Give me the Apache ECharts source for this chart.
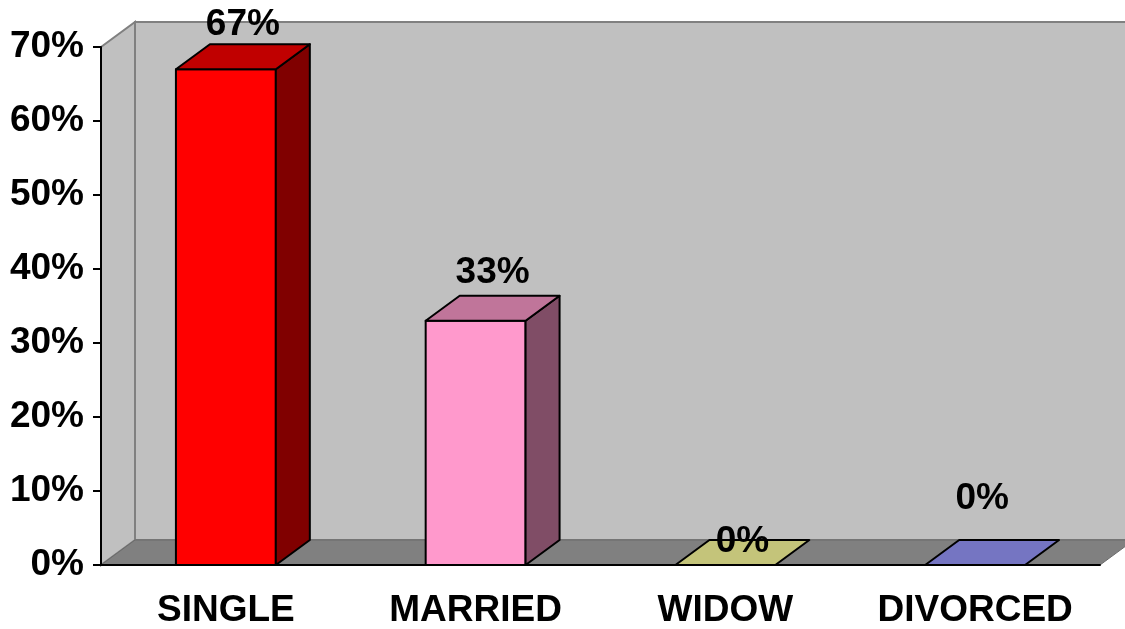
<!DOCTYPE html>
<html>
<head>
<meta charset="utf-8">
<script src="https://cdn.jsdelivr.net/npm/echarts@6/dist/echarts.min.js"></script>
<style>
  html, body { margin: 0; padding: 0; background: #fff; }
  #chart { width: 1125px; height: 629px; }
</style>
</head>
<body>
<div id="chart"></div>
<script>
// data
const categories = ['SINGLE', 'MARRIED', 'WIDOW', 'DIVORCED']
const shares = [0.67, 0.33, 0, 0]
const frontColors = ['#FF0000', '#FF99CC', '#FFFF99', '#9999FF']
const topColors = ['#C00000', '#C0759A', '#C4C47A', '#7575C2']
const sideColors = ['#800000', '#804D66', '#80804D', '#4D4D80']

// 3d look
const DX = 34
const DY = -25
const FONT = 'bold 37px "Liberation Sans", Arial, sans-serif'
// excel put the value labels at slightly different heights
const labelLift = [19, 23, -2, 41]
const labelShift = [0, 0, 0, -10]

const chart = echarts.init(document.getElementById('chart'))

function renderWalls(params, api) {
  const cs = params.coordSys
  const x0 = cs.x, x1 = cs.x + cs.width
  const yTop = cs.y, yBot = cs.y + cs.height
  return {
    type: 'group',
    children: [
      { // back wall
        type: 'rect',
        shape: { x: x0 + DX, y: yTop + DY, width: x1 - x0 + 10, height: yBot - yTop },
        style: { fill: '#C0C0C0', stroke: '#808080', lineWidth: 2 }
      },
      { // left wall
        type: 'polygon',
        shape: { points: [[x0, yTop], [x0 + DX, yTop + DY], [x0 + DX, yBot + DY], [x0, yBot]] },
        style: { fill: '#C0C0C0', stroke: '#808080', lineWidth: 2 }
      },
      { // floor
        type: 'polygon',
        shape: { points: [[x0, yBot], [x1, yBot], [x1 + DX, yBot + DY], [x0 + DX, yBot + DY]] },
        style: { fill: '#808080', stroke: '#6a6a6a', lineWidth: 1 }
      }
    ]
  }
}

function renderBar(params, api) {
  const i = params.dataIndex
  const val = api.value(1)
  const c = api.coord([api.value(0), val])
  const base = api.coord([api.value(0), 0])
  const w = api.size([1, 0])[0] * 0.4
  const xa = c[0] - w / 2, xb = c[0] + w / 2
  const yt = c[1], yb = base[1]
  const line = { stroke: '#000', lineWidth: 2, lineJoin: 'round' }
  const children = []
  if (yb - yt > 0.5) {
    children.push({
      type: 'polygon',
      shape: { points: [[xa, yt], [xb, yt], [xb, yb], [xa, yb]] },
      style: Object.assign({ fill: frontColors[i] }, line)
    })
    children.push({
      type: 'polygon',
      shape: { points: [[xb, yt], [xb + DX, yt + DY], [xb + DX, yb + DY], [xb, yb]] },
      style: Object.assign({ fill: sideColors[i] }, line)
    })
  }
  children.push({
    type: 'polygon',
    shape: { points: [[xa, yt], [xb, yt], [xb + DX, yt + DY], [xa + DX, yt + DY]] },
    style: Object.assign({ fill: topColors[i] }, line)
  })
  children.push({
    type: 'text',
    style: {
      text: Math.round(val * 100) + '%',
      x: c[0] + DX / 2 + labelShift[i],
      y: yt + DY - labelLift[i],
      align: 'center',
      verticalAlign: 'middle',
      font: FONT,
      fill: '#000'
    }
  })
  return { type: 'group', children: children }
}

chart.setOption({
  animation: false,
  backgroundColor: '#fff',
  grid: { left: 101, right: 25, top: 47, bottom: 63 },
  xAxis: {
    type: 'category',
    data: categories,
    z: 10,
    axisLine: { lineStyle: { color: '#000', width: 2 } },
    axisTick: { length: 10, interval: 0, lineStyle: { color: '#000', width: 2 } },
    axisLabel: { interval: 0, color: '#000', fontSize: 37, fontWeight: 'bold', fontFamily: 'Liberation Sans', margin: 27 }
  },
  yAxis: {
    type: 'value',
    min: 0,
    max: 0.7,
    interval: 0.1,
    z: 10,
    splitLine: { show: false },
    axisLine: { show: true, lineStyle: { color: '#000', width: 2 } },
    axisTick: { show: true, length: 8, lineStyle: { color: '#000', width: 2 } },
    axisLabel: {
      color: '#000', fontSize: 37, fontWeight: 'bold', fontFamily: 'Liberation Sans', margin: 17,
      formatter: v => Math.round(v * 100) + '%'
    }
  },
  series: [
    {
      type: 'custom',
      z: 1,
      silent: true,
      renderItem: renderWalls,
      data: [[0, 0]],
      clip: false
    },
    {
      type: 'custom',
      z: 3,
      renderItem: renderBar,
      data: categories.map((c, i) => [i, shares[i]]),
      clip: false
    }
  ]
})
</script>
</body>
</html>
